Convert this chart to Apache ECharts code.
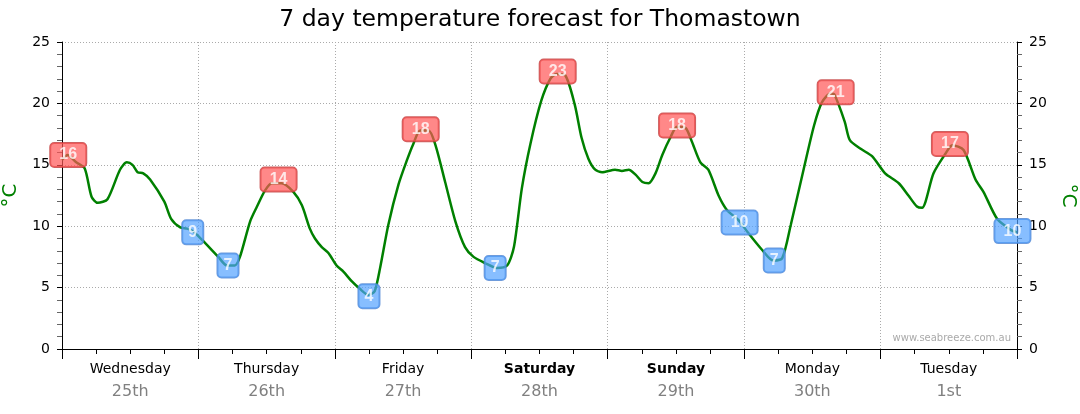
<!DOCTYPE html>
<html>
<head>
<meta charset="utf-8">
<script src="https://cdn.jsdelivr.net/npm/echarts@6/dist/echarts.min.js"></script>
<style>html,body{margin:0;padding:0;background:#fff;}#c{width:1080px;height:414px;}</style>
</head>
<body>
<div id="c"></div>
<script>
// Day categories (x-axis labels)
var dayNames = ['Wednesday','Thursday','Friday','Saturday','Sunday','Monday','Tuesday'];
var dayDates = ['25th','26th','27th','28th','29th','30th','1st'];
var weekendDays = ['Saturday','Sunday'];

// Temperature trace: hours since start of Wednesday, and temperature (°C)
var hours = [0,1,2.5,4,5.2,6.3,8,10.2,11.4,12.4,13.3,14.3,15.5,18,19.2,20.8,22,23,24.6,27.5,29,30.4,31.3,33.1,34.3,35.7,36.9,38.6,40.7,42.2,43.6,44.5,45.7,46.9,48.3,49.5,51,52.4,53.9,55,56,57.4,59.2,60.7,61.8,63,64.5,65.7,67.4,69.2,70.9,72.4,74.4,76.5,78.3,79.5,80.9,82.4,84.3,85.9,87,88.5,90.2,91.4,92.6,93.8,95,97.3,98.5,99.7,100.9,102.1,103.2,104.4,105.6,107,108.2,109.7,110.8,112.3,113.7,115.5,117,119,120.8,123.1,125.1,126.7,128.2,130.5,132.3,133.7,135.2,135.9,137.7,138.6,140.5,142.5,144.8,147.2,148.9,150.4,151.3,153.3,155.4,156.6,158.6,160.7,162.1,164.5,166.9,168];
var temps = [15.4,15.8,15.2,14.7,12.4,11.9,12.2,14.6,15.2,15.0,14.4,14.3,13.8,12.0,10.6,9.9,9.8,9.6,8.9,7.5,6.8,6.8,7.5,10.4,11.6,12.9,13.5,13.5,12.8,11.7,9.8,9.0,8.3,7.8,6.8,6.3,5.5,4.9,4.4,4.7,6.7,10.1,13.4,15.4,16.7,17.8,17.8,16.6,13.6,10.4,8.3,7.5,7.0,6.6,6.8,8.3,13.1,16.7,20.2,22.0,22.4,22.3,19.9,17.2,15.5,14.6,14.4,14.6,14.5,14.6,14.2,13.6,13.5,14.3,15.8,17.2,18.1,18.0,16.9,15.2,14.6,12.5,11.3,10.5,9.4,8.1,7.2,7.4,10.1,14.7,18.2,20.1,20.8,20.7,18.5,17.0,16.3,15.7,14.3,13.5,12.5,11.6,11.5,14.3,15.9,16.6,16.2,13.8,12.8,10.6,9.7,9.5];

// Max / min callouts: hour, temperature at callout, displayed text, kind
var calloutHours = [1.1,23.0,29.2,38.1,54.0,63.1,76.2,87.2,108.2,119.2,125.3,136.1,156.2,167.2];
var calloutTemps = [15.8,9.5,6.8,13.8,4.3,17.9,6.6,22.6,18.2,10.3,7.2,20.9,16.7,9.6];
var calloutText  = ['16','9','7','14','4','18','7','23','18','10','7','21','17','10'];
var calloutKind  = ['max','min','min','max','min','max','min','max','max','min','min','max','max','min'];

// Axis ticks
var yMin = 0, yMax = 25, yStep = 5;
var xMin = 0, xMax = 168, xStep = 24;

var lineData = hours.map(function(h,i){ return [h, temps[i]]; });
var styles = {
  max: {bg:'rgba(255,85,85,0.88)', border:'#c03838'},
  min: {bg:'rgba(80,160,255,0.86)', border:'#4a82d2'}
};
var calloutData = calloutHours.map(function(h,i){
  var s = styles[calloutKind[i]];
  return {
    value:[h, calloutTemps[i]],
    label:{
      formatter: calloutText[i],
      backgroundColor: s.bg,
      borderColor: s.border,
      width: calloutText[i].length > 1 ? 28 : 13
    }
  };
});

var chart = echarts.init(document.getElementById('c'), null, {renderer:'canvas'});
var axisFont = 'DejaVu Sans';
chart.setOption({
  animation:false,
  backgroundColor:'#fff',
  title:{
    text:'7 day temperature forecast for Thomastown',
    left:'center', top:3,
    textStyle:{fontFamily:axisFont, fontSize:23.5, fontWeight:'normal', color:'#000'}
  },
  grid:{left:62, right:63, top:42, bottom:65, containLabel:false, outerBoundsMode:'none'},
  xAxis:[{
    type:'value', min:xMin, max:xMax, interval:xStep,
    axisLine:{show:true, onZero:false, lineStyle:{color:'#000', width:1}},
    axisTick:{show:true, length:10, inside:false, lineStyle:{color:'#000'}},
    minorTick:{show:true, splitNumber:4, length:5, lineStyle:{color:'#000'}},
    axisLabel:{show:false},
    splitLine:{show:true, lineStyle:{color:'#aaa', type:[1,2], width:1}}
  },{
    type:'category', data:dayNames, position:'bottom', boundaryGap:true,
    axisLine:{show:false}, axisTick:{show:false},
    axisLabel:{
      margin:9,
      formatter:function(v, i){
        var d = weekendDays.indexOf(v) >= 0 ? 'b' : 'a';
        return '{' + d + '|' + v + '}\n{n|' + dayDates[i] + '}';
      },
      rich:{
        a:{fontFamily:axisFont, fontSize:14, color:'#000', lineHeight:22},
        b:{fontFamily:axisFont, fontSize:14, fontWeight:'bold', color:'#000', lineHeight:22},
        n:{fontFamily:axisFont, fontSize:16, color:'#808080', lineHeight:24}
      }
    },
    splitLine:{show:false}
  }],
  yAxis:[{
    type:'value', min:yMin, max:yMax, interval:yStep, position:'left',
    name:'°C', nameLocation:'middle', nameGap:36, nameRotate:90,
    nameTextStyle:{color:'#008000', fontFamily:axisFont, fontSize:20},
    axisLine:{show:true, lineStyle:{color:'#000'}},
    axisTick:{show:true, length:5, lineStyle:{color:'#000'}},
    minorTick:{show:true, splitNumber:5, length:5, lineStyle:{color:'#666'}},
    axisLabel:{margin:12, fontFamily:axisFont, fontSize:14, color:'#000'},
    splitLine:{show:true, lineStyle:{color:'#aaa', type:[1,2], width:1}}
  },{
    type:'value', min:yMin, max:yMax, interval:yStep, position:'right',
    name:'°C', nameLocation:'middle', nameGap:39, nameRotate:-90,
    nameTextStyle:{color:'#008000', fontFamily:axisFont, fontSize:20},
    axisLine:{show:true, lineStyle:{color:'#000'}},
    axisTick:{show:true, length:5, lineStyle:{color:'#000'}},
    minorTick:{show:true, splitNumber:5, length:5, lineStyle:{color:'#666'}},
    axisLabel:{margin:12, fontFamily:axisFont, fontSize:14, color:'#000'},
    splitLine:{show:false}
  }],
  graphic:[{
    type:'text', right:69, top:333,
    style:{text:'www.seabreeze.com.au', fill:'#aaa', font:'10px "DejaVu Sans"'}
  }],
  series:[{
    type:'line', xAxisIndex:0, yAxisIndex:0,
    data:lineData, showSymbol:false, smooth:0.25,
    lineStyle:{color:'#008000', width:2.5},
    z:2
  },{
    type:'scatter', xAxisIndex:0, yAxisIndex:0,
    data:calloutData, symbolSize:1, itemStyle:{color:'rgba(0,0,0,0)'},
    label:{
      show:true, position:'inside', align:'center',
      fontFamily:'Liberation Sans', fontWeight:'bold', fontSize:16, color:'#fff',
      lineHeight:16, padding:[4,4], borderWidth:1, borderRadius:4
    },
    z:5
  }]
});
</script>
</body>
</html>
